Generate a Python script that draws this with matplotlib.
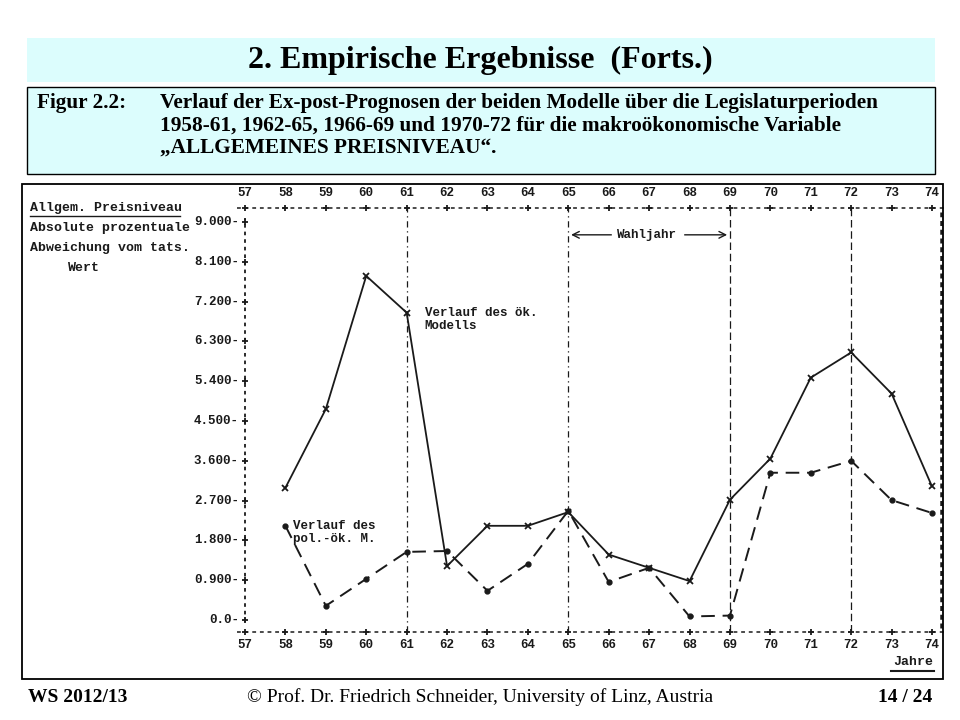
import matplotlib.pyplot as plt
from matplotlib.patches import Rectangle

years = [58, 59, 60, 61, 62, 63, 64, 65, 66, 67, 68, 69, 70, 71, 72, 73, 74]
oek_modell = [2.99, 4.77, 7.78, 6.95, 1.22, 2.13, 2.13, 2.44, 1.48, 1.18, 0.88, 2.72, 3.65, 5.48, 6.05, 5.12, 3.02]
pol_oek_modell = [2.13, 0.32, 0.93, 1.54, 1.56, 0.66, 1.27, 2.47, 0.86, 1.18, 0.08, 0.1, 3.33, 3.33, 3.6, 2.71, 2.42]
axis_years = list(range(57, 75))
y_ticks = [9.0, 8.1, 7.2, 6.3, 5.4, 4.5, 3.6, 2.7, 1.8, 0.9, 0.0]
y_labels = ["9.000", "8.100", "7.200", "6.300", "5.400", "4.500", "3.600", "2.700", "1.800", "0.900", "0.0"]
period_ends = [61, 65, 69, 72]

W, H = 960, 720
fig = plt.figure(figsize=(9.6, 7.2), dpi=100)
fig.patch.set_facecolor("white")

def fx(x): return x / W
def fy(y): return 1 - y / H

serif = "Liberation Serif"
mono = "Liberation Mono"
cyan = "#dcfdfd"
ink = "#1a1a1a"

# slide header
fig.patches.append(Rectangle((fx(27), fy(82)), fx(935) - fx(27), fy(38) - fy(82),
                             transform=fig.transFigure, facecolor=cyan, edgecolor="none"))
fig.text(fx(480), fy(60), "2. Empirische Ergebnisse  (Forts.)", family=serif, fontweight="bold",
         fontsize=23, ha="center", va="center")
fig.patches.append(Rectangle((fx(27), fy(174)), fx(935) - fx(27), fy(87) - fy(174),
                             transform=fig.transFigure, facecolor=cyan, edgecolor="black", linewidth=1))
fig.text(fx(37), fy(103), "Figur 2.2:", family=serif, fontweight="bold", fontsize=15.3, ha="left", va="center")
caption = ["Verlauf der Ex-post-Prognosen der beiden Modelle über die Legislaturperioden",
           "1958-61, 1962-65, 1966-69 und 1970-72 für die makroökonomische Variable",
           "\u201eALLGEMEINES PREISNIVEAU\u201c."]
for i, line in enumerate(caption):
    fig.text(fx(160), fy(103 + 22.5 * i), line, family=serif, fontweight="bold", fontsize=15.3, ha="left", va="center")

# frame round the scanned chart
fig.patches.append(Rectangle((fx(22), fy(679)), fx(943) - fx(22), fy(184) - fy(679),
                             transform=fig.transFigure, facecolor="none", edgecolor="black", linewidth=1.3))

# footer
fig.text(fx(28), fy(697), "WS 2012/13", family=serif, fontweight="bold", fontsize=14, ha="left", va="center")
fig.text(fx(480), fy(697), "© Prof. Dr. Friedrich Schneider, University of Linz, Austria", family=serif,
         fontsize=14, ha="center", va="center")
fig.text(fx(932), fy(697), "14 / 24", family=serif, fontweight="bold", fontsize=14, ha="right", va="center")

# data axes: x 57..74, y 0..9
ax = fig.add_axes([fx(245), fy(620), fx(932) - fx(245), fy(222) - fy(620)])
ax.set_xlim(57, 74)
ax.set_ylim(0, 9)
ax.axis("off")

top_y, bot_y = 9.32, -0.27
tick_kw = dict(family=mono, fontweight="bold", fontsize=9, color=ink, clip_on=False)

# typewriter axis lines
for yy in (top_y, bot_y):
    ax.plot([56.8, 74.3], [yy, yy], color=ink, lw=1.1, ls=(0, (2.5, 2.5)), clip_on=False)
    ax.plot(axis_years, [yy] * len(axis_years), ls="none", marker="+", ms=5, mew=1.3, color=ink, clip_on=False)
for yr in axis_years:
    ax.text(yr, 9.65, str(yr), ha="center", va="center", **tick_kw)
    ax.text(yr, -0.57, str(yr), ha="center", va="center", **tick_kw)

ax.plot([57, 57], [-0.05, 9.1], color=ink, lw=1.3, ls=(0, (2, 2.2)), clip_on=False)
ax.plot([57] * len(y_ticks), y_ticks, ls="none", marker="+", ms=5, mew=1.3, color=ink, clip_on=False)
for yv, lab in zip(y_ticks, y_labels):
    ax.text(56.85, yv, lab + "-", ha="right", va="center", **tick_kw)
ax.plot([74.22, 74.22], [bot_y + 0.1, top_y - 0.1], color=ink, lw=1.8, ls=(0, (2, 1.5)), clip_on=False)

# legislative period boundaries
for yr in period_ends:
    style = (0, (5, 3, 1, 3)) if yr < 69 else (0, (6, 3))
    ax.plot([yr, yr], [bot_y, top_y], color=ink, lw=0.9, ls=style, clip_on=False)

# Wahljahr arrow
ax.annotate("", xy=(65, 8.71), xytext=(69, 8.71),
            arrowprops=dict(arrowstyle="<->", color=ink, lw=1.0, mutation_scale=12))
ax.text(66.95, 8.71, "Wahljahr", ha="center", va="center", family=mono, fontweight="bold", fontsize=9,
        color=ink, backgroundcolor="white")

# the two forecast series
ax.plot(years, oek_modell, color=ink, lw=1.3, marker="x", ms=5, mew=1.3, clip_on=False)
ax.plot(years, pol_oek_modell, color=ink, lw=1.4, ls=(0, (7, 4)), marker="o", ms=3.5, clip_on=False)

ax.text(61.45, 6.8, "Verlauf des ök.\nModells", ha="left", va="center", family=mono, fontweight="bold",
        fontsize=9, color=ink, linespacing=1.05)
ax.text(58.2, 1.98, "Verlauf des\npol.-ök. M.", ha="left", va="center", family=mono, fontweight="bold",
        fontsize=9, color=ink, linespacing=1.05)

# header text of the scan
scan_kw = dict(family=mono, fontweight="bold", fontsize=9.5, color=ink, va="center")
fig.text(fx(30), fy(208), "Allgem. Preisniveau", ha="left", **scan_kw)
fig.lines.append(plt.Line2D([fx(30), fx(180)], [fy(216), fy(216)], transform=fig.transFigure, color=ink, lw=1))
fig.text(fx(30), fy(228), "Absolute prozentuale", ha="left", **scan_kw)
fig.text(fx(30), fy(248), "Abweichung vom tats.", ha="left", **scan_kw)
fig.text(fx(68), fy(268), "Wert", ha="left", **scan_kw)
fig.text(fx(933), fy(662), "Jahre", ha="right", **scan_kw)
fig.lines.append(plt.Line2D([fx(891), fx(934)], [fy(671), fy(671)], transform=fig.transFigure, color=ink, lw=1.5))

plt.savefig("out.png", dpi=100)
plt.close()
